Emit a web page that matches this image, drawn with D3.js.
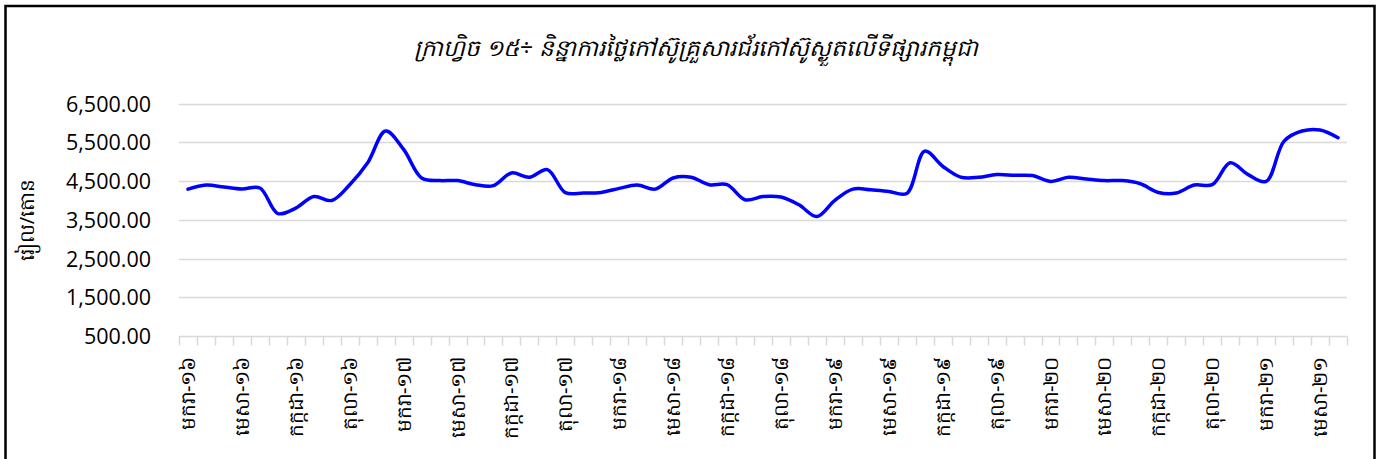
<!DOCTYPE html>
<html>
<head>
<meta charset="utf-8">
<script src="https://cdn.jsdelivr.net/npm/d3@7"></script>
<style>
  html, body { margin: 0; padding: 0; background: #fff; }
  svg { display: block; }
</style>
</head>
<body>
<svg id="chart" width="1377" height="459"></svg>
<script>
// ---- data ----
const title = "ក្រាហ្វិច ១៥÷ និន្នាការថ្លៃកៅស៊ូគ្រួសារជ័រកៅស៊ូស្ងួតលើទីផ្សារកម្ពុជា";
const yAxisTitle = "រៀល/តោន";
const monthNames = ["មករា","កុម្ភៈ","មីនា","មេសា","ឧសភា","មិថុនា","កក្កដា","សីហា","កញ្ញា","តុលា","វិច្ឆិកា","ធ្នូ"];
const yearLabels = ["១៦","១៧","១៨","១៩","២០","២១"];
const startYearIndex = 0; // 2016
const monthCount = 65;    // Jan 2016 - May 2021
const prices = [
  4290, 4396, 4344, 4292, 4320, 3660, 3800, 4100, 3998, 4405, 4970, 5790,
  5314, 4578, 4510, 4510, 4405, 4380, 4708, 4595, 4794, 4200, 4190, 4205,
  4310, 4396, 4290, 4578, 4595, 4405, 4405, 4015, 4100, 4085, 3885, 3582,
  4000, 4290, 4275, 4230, 4180, 5270, 4880, 4600, 4595, 4665, 4647, 4640,
  4490, 4595, 4550, 4510, 4510, 4430, 4205, 4190, 4396, 4405, 4970, 4665,
  4490, 5530, 5790, 5816, 5617
];
const yTicks = [500, 1500, 2500, 3500, 4500, 5500, 6500];

// build categories
const categories = d3.range(monthCount).map(i =>
  monthNames[i % 12] + "-" + yearLabels[startYearIndex + Math.floor(i / 12)]);
const data = categories.map((c, i) => ({ cat: c, v: prices[i], i }));

// ---- layout ----
const svg = d3.select("#chart");
const W = 1377, H = 459;
const plot = { left: 179, right: 1347, top: 103.5, bottom: 336 };

svg.append("rect").attr("x", 0).attr("y", 0).attr("width", W).attr("height", H).attr("fill", "#fff");
// chart frame
svg.append("rect")
  .attr("x", 5.5).attr("y", 6).attr("width", 1369).attr("height", H + 10)
  .attr("fill", "none").attr("stroke", "#000").attr("stroke-width", 2.5);

const x = d3.scaleBand().domain(categories).range([plot.left, plot.right]).padding(0);
const y = d3.scaleLinear().domain([500, 6500]).range([plot.bottom, plot.top]);

// gridlines
svg.append("g").selectAll("line").data(yTicks.filter(t => t > 500)).join("line")
  .attr("x1", plot.left).attr("x2", plot.right)
  .attr("y1", d => Math.round(y(d)) + 0.5).attr("y2", d => Math.round(y(d)) + 0.5)
  .attr("stroke", "#d9d9d9").attr("stroke-width", 1.5);

// y axis labels
const yAxis = d3.axisLeft(y).tickValues(yTicks).tickSize(0).tickPadding(0)
  .tickFormat(d3.format(",.2f"));
const gy = svg.append("g").attr("transform", `translate(${plot.left - 28},0)`).call(yAxis);
gy.select(".domain").remove();
gy.selectAll("text")
  .attr("font-family", "'Open Sans', 'Liberation Sans', sans-serif")
  .attr("font-size", 21.5).attr("fill", "#000").attr("dy", "0.35em");

// x axis
const xAxis = d3.axisBottom(x).tickSize(0).tickFormat(d => "");
const gx = svg.append("g").attr("transform", `translate(0,${Math.round(plot.bottom) + 0.5})`).call(xAxis);
gx.select(".domain").attr("stroke", "#d9d9d9").attr("stroke-width", 1.5)
  .attr("d", `M${plot.left},0H${plot.right}`);
gx.selectAll(".tick").remove();
// tick marks at category boundaries
const bounds = d3.range(monthCount + 1).map(i => i === monthCount ? plot.right : x(categories[i]));
gx.append("g").selectAll("line").data(bounds).join("line")
  .attr("x1", d => Math.round(d) + 0.5).attr("x2", d => Math.round(d) + 0.5)
  .attr("y1", 0).attr("y2", 9)
  .attr("stroke", "#d9d9d9").attr("stroke-width", 1.5);
// labels every 3 months
gx.append("g").selectAll("text").data(data.filter(d => d.i % 3 === 0)).join("text")
  .attr("transform", d => `translate(${x(d.cat) + x.bandwidth() / 2 + 7},${20}) rotate(-90)`)
  .attr("text-anchor", "end")
  .attr("font-family", "'Noto Sans', 'DejaVu Sans', sans-serif")
  .attr("font-size", 20).attr("fill", "#000")
  .text(d => d.cat);

// line
const line = d3.line()
  .x(d => x(d.cat) + x.bandwidth() / 2)
  .y(d => y(d.v))
  .curve(d3.curveCatmullRom.alpha(0.5));
svg.append("path").datum(data)
  .attr("d", line)
  .attr("fill", "none").attr("stroke", "#0000ff").attr("stroke-width", 3.5)
  .attr("stroke-linecap", "round").attr("stroke-linejoin", "round");

// title
svg.append("text")
  .attr("x", 696).attr("y", 56)
  .attr("text-anchor", "middle")
  .attr("font-family", "'Noto Sans', 'DejaVu Sans', sans-serif")
  .attr("font-style", "italic")
  .attr("font-size", 23).attr("fill", "#000")
  .text(title);

// y axis title
svg.append("text")
  .attr("transform", "translate(34,220) rotate(-90)")
  .attr("text-anchor", "middle")
  .attr("font-family", "'Noto Sans', 'DejaVu Sans', sans-serif")
  .attr("font-size", 20).attr("fill", "#000")
  .text(yAxisTitle);
</script>
</body>
</html>
